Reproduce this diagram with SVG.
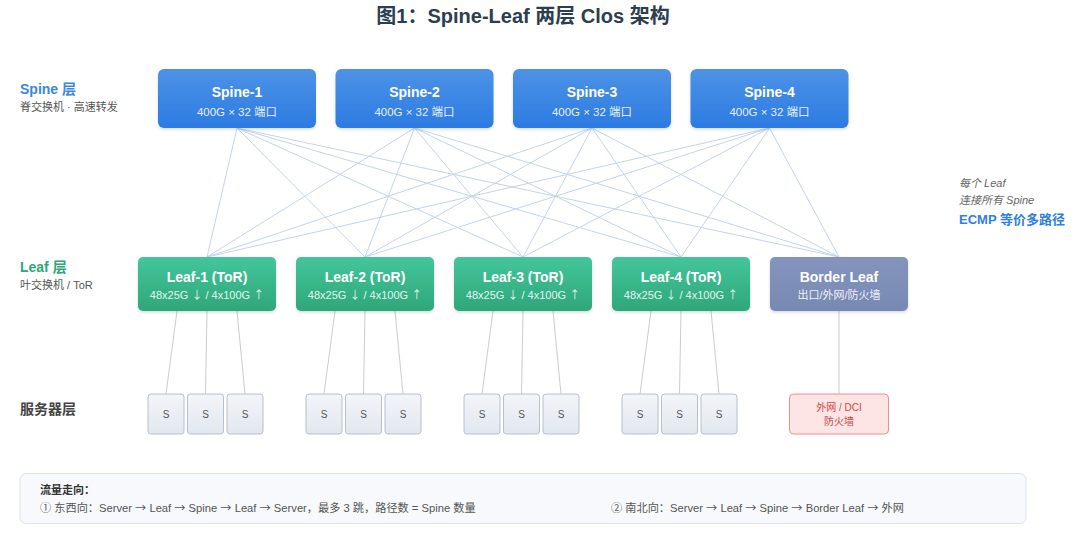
<svg xmlns="http://www.w3.org/2000/svg" width="1080" height="538" viewBox="0 0 1080 538">
<defs>
<linearGradient id="gSpine" x1="0" y1="0" x2="0" y2="1"><stop offset="0" stop-color="#4d92e6"/><stop offset="1" stop-color="#2c7be2"/></linearGradient>
<linearGradient id="gLeaf" x1="0" y1="0" x2="0" y2="1"><stop offset="0" stop-color="#44c59b"/><stop offset="1" stop-color="#2ea77a"/></linearGradient>
<linearGradient id="gBorder" x1="0" y1="0" x2="0" y2="1"><stop offset="0" stop-color="#8494bd"/><stop offset="1" stop-color="#7789b3"/></linearGradient>
<linearGradient id="gSrv" x1="0" y1="0" x2="0" y2="1"><stop offset="0" stop-color="#f3f5f9"/><stop offset="1" stop-color="#e2e7ef"/></linearGradient>
<filter id="sh" x="-10%" y="-10%" width="120%" height="130%"><feDropShadow dx="0" dy="1.5" stdDeviation="1.5" flood-color="#000" flood-opacity="0.15"/></filter>
</defs>
<style>
text{font-family:"Liberation Sans","Noto Sans CJK SC",sans-serif}
.ar{font-family:"Noto Sans CJK SC",sans-serif}
.title{font-size:20px;font-weight:bold;fill:#2c3e50}
.nt{font-size:14px;font-weight:bold;fill:#fff}
.ns{font-size:11px;fill:#fff;fill-opacity:0.9}
.ns2{font-size:11.5px;fill:#fff;fill-opacity:0.9}
.lbl{font-size:14px;font-weight:bold}
.sub{font-size:11px;fill:#555}
.up{stroke:#c3d4ea;stroke-width:1;fill:none}
.dn{stroke:#c8ccd3;stroke-width:1;fill:none}
.srv rect{fill:url(#gSrv);stroke:#b6c0ce;stroke-width:1}
.srv text{font-size:10px;fill:#555}
.leg{font-size:11.2px;fill:#555}
</style>
<rect width="1080" height="538" fill="#ffffff"/>
<text class="title" x="523" y="23" text-anchor="middle">图1：Spine-Leaf 两层 Clos 架构</text>

<g id="labels">
<text class="lbl" x="20" y="94" fill="#3a86e0">Spine 层</text>
<text class="sub" x="20" y="111">脊交换机 · 高速转发</text>
<text class="lbl" x="20" y="272" fill="#2ea57a">Leaf 层</text>
<text class="sub" x="20" y="289">叶交换机 / ToR</text>
<text class="lbl" x="20" y="414" fill="#444">服务器层</text>
<text x="959" y="187" font-size="11" font-style="italic" fill="#666">每个 Leaf</text>
<text x="959" y="204" font-size="11" font-style="italic" fill="#666">连接所有 Spine</text>
<text x="959" y="224" font-size="13" font-weight="bold" fill="#2f7ee3">ECMP 等价多路径</text>
</g>

<g id="connectors">
<g class="up">
<line x1="237" y1="128" x2="207" y2="257"/><line x1="237" y1="128" x2="365" y2="257"/><line x1="237" y1="128" x2="523" y2="257"/><line x1="237" y1="128" x2="681" y2="257"/><line x1="237" y1="128" x2="839" y2="257"/>
<line x1="414.5" y1="128" x2="207" y2="257"/><line x1="414.5" y1="128" x2="365" y2="257"/><line x1="414.5" y1="128" x2="523" y2="257"/><line x1="414.5" y1="128" x2="681" y2="257"/><line x1="414.5" y1="128" x2="839" y2="257"/>
<line x1="592" y1="128" x2="207" y2="257"/><line x1="592" y1="128" x2="365" y2="257"/><line x1="592" y1="128" x2="523" y2="257"/><line x1="592" y1="128" x2="681" y2="257"/><line x1="592" y1="128" x2="839" y2="257"/>
<line x1="769.5" y1="128" x2="207" y2="257"/><line x1="769.5" y1="128" x2="365" y2="257"/><line x1="769.5" y1="128" x2="523" y2="257"/><line x1="769.5" y1="128" x2="681" y2="257"/><line x1="769.5" y1="128" x2="839" y2="257"/>
</g>
<g class="dn">
<line x1="177" y1="311" x2="166" y2="394"/><line x1="207" y1="311" x2="205.5" y2="394"/><line x1="237" y1="311" x2="245" y2="394"/>
<line x1="335" y1="311" x2="324" y2="394"/><line x1="365" y1="311" x2="363.5" y2="394"/><line x1="395" y1="311" x2="403" y2="394"/>
<line x1="493" y1="311" x2="482" y2="394"/><line x1="523" y1="311" x2="521.5" y2="394"/><line x1="553" y1="311" x2="561" y2="394"/>
<line x1="651" y1="311" x2="640" y2="394"/><line x1="681" y1="311" x2="679.5" y2="394"/><line x1="711" y1="311" x2="719" y2="394"/>
<line x1="839" y1="311" x2="839" y2="394"/>
</g>
</g>

<g id="spine-1"><rect x="158" y="69" width="158" height="59" rx="6" fill="url(#gSpine)" filter="url(#sh)"/><text class="nt" x="237" y="97" text-anchor="middle">Spine-1</text><text class="ns2" x="237" y="116" text-anchor="middle">400G × 32 端口</text></g>
<g id="spine-2"><rect x="335.5" y="69" width="158" height="59" rx="6" fill="url(#gSpine)" filter="url(#sh)"/><text class="nt" x="414.5" y="97" text-anchor="middle">Spine-2</text><text class="ns2" x="414.5" y="116" text-anchor="middle">400G × 32 端口</text></g>
<g id="spine-3"><rect x="513" y="69" width="158" height="59" rx="6" fill="url(#gSpine)" filter="url(#sh)"/><text class="nt" x="592" y="97" text-anchor="middle">Spine-3</text><text class="ns2" x="592" y="116" text-anchor="middle">400G × 32 端口</text></g>
<g id="spine-4"><rect x="690.5" y="69" width="158" height="59" rx="6" fill="url(#gSpine)" filter="url(#sh)"/><text class="nt" x="769.5" y="97" text-anchor="middle">Spine-4</text><text class="ns2" x="769.5" y="116" text-anchor="middle">400G × 32 端口</text></g>

<g id="leaf-1"><rect x="138" y="257" width="138" height="54" rx="5" fill="url(#gLeaf)" filter="url(#sh)"/><text class="nt" x="207" y="282" text-anchor="middle">Leaf-1 (ToR)</text><text class="ns" x="207" y="299" text-anchor="middle">48x25G <tspan class="ar">↓</tspan> / 4x100G <tspan class="ar">↑</tspan></text></g>
<g id="leaf-2"><rect x="296" y="257" width="138" height="54" rx="5" fill="url(#gLeaf)" filter="url(#sh)"/><text class="nt" x="365" y="282" text-anchor="middle">Leaf-2 (ToR)</text><text class="ns" x="365" y="299" text-anchor="middle">48x25G <tspan class="ar">↓</tspan> / 4x100G <tspan class="ar">↑</tspan></text></g>
<g id="leaf-3"><rect x="454" y="257" width="138" height="54" rx="5" fill="url(#gLeaf)" filter="url(#sh)"/><text class="nt" x="523" y="282" text-anchor="middle">Leaf-3 (ToR)</text><text class="ns" x="523" y="299" text-anchor="middle">48x25G <tspan class="ar">↓</tspan> / 4x100G <tspan class="ar">↑</tspan></text></g>
<g id="leaf-4"><rect x="612" y="257" width="138" height="54" rx="5" fill="url(#gLeaf)" filter="url(#sh)"/><text class="nt" x="681" y="282" text-anchor="middle">Leaf-4 (ToR)</text><text class="ns" x="681" y="299" text-anchor="middle">48x25G <tspan class="ar">↓</tspan> / 4x100G <tspan class="ar">↑</tspan></text></g>
<g id="border-leaf"><rect x="770" y="257" width="138" height="54" rx="5" fill="url(#gBorder)" filter="url(#sh)"/><text class="nt" x="839" y="282" text-anchor="middle">Border Leaf</text><text class="ns" x="839" y="299" text-anchor="middle">出口/外网/防火墙</text></g>

<g id="servers-1" class="srv">
<rect x="148" y="394" width="36" height="40" rx="3"/><text x="166" y="418" text-anchor="middle">S</text>
<rect x="187.5" y="394" width="36" height="40" rx="3"/><text x="205.5" y="418" text-anchor="middle">S</text>
<rect x="227" y="394" width="36" height="40" rx="3"/><text x="245" y="418" text-anchor="middle">S</text>
</g>
<g id="servers-2" class="srv">
<rect x="306" y="394" width="36" height="40" rx="3"/><text x="324" y="418" text-anchor="middle">S</text>
<rect x="345.5" y="394" width="36" height="40" rx="3"/><text x="363.5" y="418" text-anchor="middle">S</text>
<rect x="385" y="394" width="36" height="40" rx="3"/><text x="403" y="418" text-anchor="middle">S</text>
</g>
<g id="servers-3" class="srv">
<rect x="464" y="394" width="36" height="40" rx="3"/><text x="482" y="418" text-anchor="middle">S</text>
<rect x="503.5" y="394" width="36" height="40" rx="3"/><text x="521.5" y="418" text-anchor="middle">S</text>
<rect x="543" y="394" width="36" height="40" rx="3"/><text x="561" y="418" text-anchor="middle">S</text>
</g>
<g id="servers-4" class="srv">
<rect x="622" y="394" width="36" height="40" rx="3"/><text x="640" y="418" text-anchor="middle">S</text>
<rect x="661.5" y="394" width="36" height="40" rx="3"/><text x="679.5" y="418" text-anchor="middle">S</text>
<rect x="701" y="394" width="36" height="40" rx="3"/><text x="719" y="418" text-anchor="middle">S</text>
</g>
<g id="external">
<rect x="789.5" y="394" width="99" height="40" rx="4" fill="#fde5e5" stroke="#ee8e8e" stroke-width="1"/>
<text x="839" y="411" font-size="10" fill="#d9443f" text-anchor="middle">外网 / DCI</text>
<text x="839" y="425" font-size="10" fill="#d9443f" text-anchor="middle">防火墙</text>
</g>

<g id="legend">
<rect x="20" y="473.5" width="1006" height="50" rx="6" fill="#f7f9fc" stroke="#dde3ec" stroke-width="1"/>
<text x="40" y="494" font-size="11" font-weight="bold" fill="#333">流量走向：</text>
<text class="leg" x="40" y="512">① 东西向：Server <tspan class="ar">→</tspan> Leaf <tspan class="ar">→</tspan> Spine <tspan class="ar">→</tspan> Leaf <tspan class="ar">→</tspan> Server，最多 3 跳，路径数 = Spine 数量</text>
<text class="leg" x="611" y="512">② 南北向：Server <tspan class="ar">→</tspan> Leaf <tspan class="ar">→</tspan> Spine <tspan class="ar">→</tspan> Border Leaf <tspan class="ar">→</tspan> 外网</text>
</g>
</svg>
